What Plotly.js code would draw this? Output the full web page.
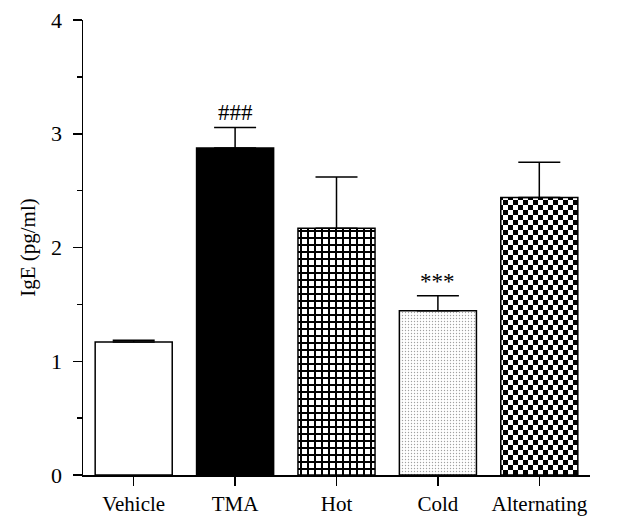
<!DOCTYPE html>
<html>
<head>
<meta charset="utf-8">
<script src="https://cdn.plot.ly/plotly-3.0.1.min.js"></script>
<style>html,body{margin:0;padding:0;background:#fff;}#chart{width:639px;height:529px;}</style>
</head>
<body>
<div id="chart"></div>
<script>
const categories = ["Vehicle", "TMA", "Hot", "Cold", "Alternating"];
const igeMeans = [1.17, 2.875, 2.17, 1.445, 2.44];
const igeErrors = [0.015, 0.18, 0.45, 0.13, 0.31];
const yTickValues = [0, 1, 2, 3, 4];
const significance = [
  {category: "TMA", label: "###"},
  {category: "Cold", label: "***"}
];

const fontFamily = "Liberation Serif, Times New Roman, serif";

const patternShapes = ["", "", "+", ".", "x"];
const patternBg = ["#ffffff", "#000000", "#ffffff", "#ffffff", "#ffffff"];
const patternSize = [8, 8, 7, 3, 10];
const patternSolidity = [0.3, 0.3, 0.55, 0.16, 0.5];

const trace = {
  type: "bar",
  x: categories,
  y: igeMeans,
  width: 0.76,
  marker: {
    color: patternBg,
    line: {color: "#000", width: 1.5},
    pattern: {
      shape: patternShapes,
      fgcolor: "#000",
      bgcolor: patternBg,
      size: patternSize,
      solidity: patternSolidity,
      fillmode: "overlay"
    }
  },
  error_y: {
    type: "data",
    symmetric: false,
    array: igeErrors,
    arrayminus: igeErrors.map(() => 0),
    color: "#000",
    thickness: 1.5,
    width: 21
  },
  hoverinfo: "x+y"
};

const annotations = significance.map(s => {
  const i = categories.indexOf(s.category);
  return {
    x: s.category,
    y: igeMeans[i] + igeErrors[i],
    xref: "x", yref: "y",
    text: s.label,
    showarrow: false,
    yanchor: "bottom",
    yshift: 0,
    font: {family: fontFamily, size: 23, color: "#000"}
  };
});

const layout = {
  width: 639,
  height: 529,
  margin: {l: 83, r: 49, t: 20, b: 54},
  paper_bgcolor: "#fff",
  plot_bgcolor: "#fff",
  showlegend: false,
  font: {family: fontFamily, size: 21, color: "#000"},
  xaxis: {
    type: "category",
    range: [-0.5, 4.5],
    showline: true,
    linecolor: "#000",
    linewidth: 1.5,
    ticks: "outside",
    ticklen: 9,
    tickwidth: 1.5,
    tickcolor: "#000",
    showgrid: false,
    zeroline: false,
    tickfont: {family: fontFamily, size: 21, color: "#000"}
  },
  yaxis: {
    range: [0, 4],
    tickvals: yTickValues,
    ticktext: yTickValues.map(String),
    showline: true,
    linecolor: "#000",
    linewidth: 1.5,
    ticks: "outside",
    ticklen: 9,
    tickwidth: 1.5,
    tickcolor: "#000",
    ticklabelstandoff: 6,
    showgrid: false,
    zeroline: false,
    tickfont: {family: fontFamily, size: 22, color: "#000"},
    minor: {dtick: 0.5, ticks: "outside", ticklen: 5, tickwidth: 1.5, tickcolor: "#000", showgrid: false},
    title: {text: "IgE (pg/ml)", font: {family: fontFamily, size: 21, color: "#000"}, standoff: 9}
  },
  annotations: annotations
};

function crispPatterns(gd) {
  // Replace the diagonal-cross fill of the "Alternating" bar with a checkerboard,
  // and make the "Hot" grid lines crisp.
  const bars = gd.querySelectorAll(".barlayer .point path");
  const setPattern = (barIdx, size, d) => {
    const p = bars[barIdx];
    if (!p) return;
    const m = (p.style.fill || p.getAttribute("fill") || "").match(/#([^"')]+)/);
    if (!m) return;
    const pat = document.getElementById(m[1]);
    if (!pat) return;
    pat.setAttribute("width", size);
    pat.setAttribute("height", size);
    pat.setAttribute("patternUnits", "userSpaceOnUse");
    while (pat.firstChild) pat.removeChild(pat.firstChild);
    const ns = "http://www.w3.org/2000/svg";
    const r = document.createElementNS(ns, "rect");
    r.setAttribute("width", size); r.setAttribute("height", size); r.setAttribute("fill", "#fff");
    pat.appendChild(r);
    const path = document.createElementNS(ns, "path");
    path.setAttribute("d", d); path.setAttribute("fill", "#000"); path.setAttribute("stroke", "none");
    pat.appendChild(path);
  };
  setPattern(4, 10, "M0,0h5v5h-5zM5,5h5v5h-5z");
  setPattern(2, 7, "M0,0h7v2h-7zM0,0h2v7h-2z");
}

Plotly.newPlot("chart", [trace], layout, {displayModeBar: false, staticPlot: true}).then(crispPatterns);
</script>
</body>
</html>
